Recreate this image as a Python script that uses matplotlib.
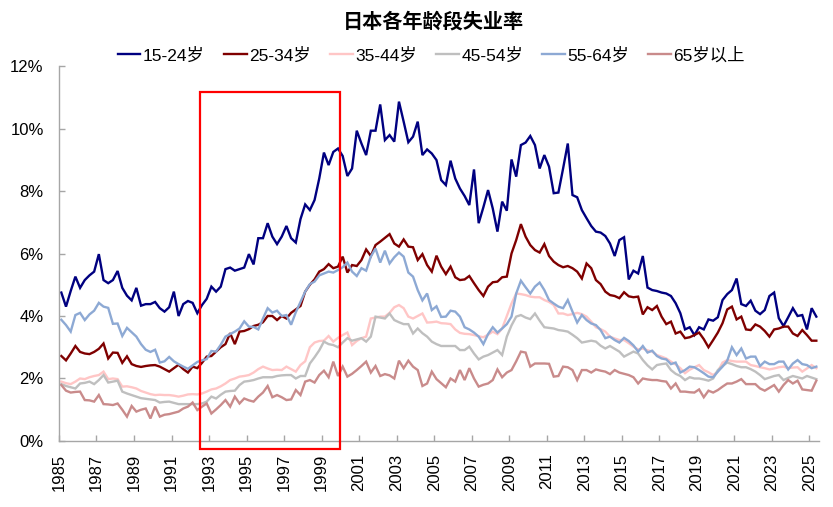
import matplotlib
matplotlib.use("Agg")
import matplotlib.pyplot as plt
from matplotlib.patches import Rectangle
import numpy as np

plt.rcParams['font.family'] = ['Liberation Sans', 'Noto Sans CJK SC', 'DejaVu Sans']

# Quarterly data, 1985Q1 .. 2025Q2 (162 quarters), unemployment rate in %
start_year = 1985
tick_years = list(range(1985, 2026, 2))

age_15_24 = [
    4.75, 4.3, 4.8, 5.26, 4.9, 5.15, 5.3, 5.42, 5.98, 5.15,
    5.05, 5.15, 5.44, 4.9, 4.65, 4.5, 4.9, 4.33, 4.38, 4.38,
    4.45, 4.25, 4.14, 4.28, 4.78, 4.0, 4.38, 4.48, 4.42, 4.09,
    4.35, 4.55, 4.94, 4.78, 4.94, 5.5, 5.55, 5.45, 5.5, 5.55,
    5.98, 5.65, 6.49, 6.49, 6.97, 6.54, 6.3, 6.54, 6.88, 6.49,
    6.35, 7.1, 7.57, 7.39, 7.71, 8.4, 9.23, 8.83, 9.25, 9.36,
    9.12, 8.48, 8.72, 9.93, 9.52, 9.15, 9.93, 9.93, 10.77, 9.63,
    9.79, 9.58, 10.86, 10.22, 9.56, 9.74, 10.22, 9.15, 9.33, 9.2,
    8.99, 8.35, 8.19, 8.97, 8.4, 8.08, 7.84, 7.55, 8.69, 6.97,
    7.48, 8.03, 7.44, 6.7, 7.66, 7.37, 9.01, 8.46, 9.47, 9.55,
    9.76, 9.47, 8.72, 9.15, 8.78, 7.93, 7.95, 8.72, 9.52, 7.87,
    7.8, 7.39, 7.13, 6.88, 6.7, 6.67, 6.56, 6.32, 5.92, 6.43,
    6.52, 5.17, 5.45, 5.36, 5.92, 4.91, 4.83, 4.8, 4.75, 4.72,
    4.64, 4.41, 4.09, 3.57, 3.64, 3.39, 3.64, 3.57, 3.89, 3.85,
    3.96, 4.51, 4.7, 4.83, 5.2, 4.38, 4.32, 4.49, 4.17, 4.06,
    4.19, 4.64, 4.75, 3.93, 3.68, 3.96, 4.25, 4.0, 4.03, 3.57,
    4.25, 3.98,
]

age_25_34 = [
    2.72, 2.58, 2.8, 3.04, 2.85, 2.8, 2.78, 2.85, 2.95, 3.12,
    2.64, 2.83, 2.82, 2.5, 2.71, 2.46, 2.4, 2.37, 2.4, 2.42,
    2.43, 2.38, 2.3, 2.22, 2.33, 2.44, 2.3, 2.19, 2.38, 2.33,
    2.5, 2.7, 2.72, 2.86, 3.0, 3.1, 3.45, 3.1, 3.5, 3.52,
    3.58, 3.68, 3.72, 3.8, 4.0, 4.0, 3.87, 4.0, 3.92, 4.1,
    4.21, 4.32, 4.78, 5.0, 5.17, 5.42, 5.5, 5.66, 5.53, 5.58,
    5.9, 5.39, 5.63, 5.6, 5.79, 6.13, 5.92, 6.27, 6.38, 6.5,
    6.62, 6.32, 6.22, 6.45, 6.22, 6.2, 5.79, 5.98, 5.63, 5.42,
    5.93, 5.58, 5.34, 5.58, 5.24, 5.15, 5.17, 5.28, 5.05, 4.83,
    4.64, 4.94, 5.08, 5.1, 5.24, 5.26, 6.0, 6.43, 6.94, 6.54,
    6.27, 6.11, 6.03, 6.3, 5.92, 5.74, 5.63, 5.56, 5.6, 5.53,
    5.42, 5.2, 5.68, 5.53, 5.15, 5.02, 4.78, 4.67, 4.64, 4.57,
    4.76, 4.63, 4.6, 4.62, 4.05, 4.28, 4.19, 4.32, 3.98, 3.74,
    3.82, 3.44, 3.5, 3.29, 3.32, 3.39, 3.47, 3.26, 3.0, 3.23,
    3.47, 3.77, 4.21, 4.3, 3.89, 3.98, 3.57, 3.55, 3.73, 3.66,
    3.52, 3.34, 3.57, 3.6, 3.66, 3.66, 3.44, 3.36, 3.55, 3.39,
    3.21, 3.21,
]

age_35_44 = [
    1.9, 1.85, 1.82, 1.9, 2.0, 1.98, 2.04, 2.08, 2.11, 2.22,
    1.98, 2.0, 1.98, 1.74, 1.75, 1.72, 1.68, 1.6, 1.55, 1.5,
    1.47, 1.48, 1.47, 1.47, 1.45, 1.42, 1.45, 1.49, 1.5, 1.49,
    1.52, 1.58, 1.65, 1.68, 1.75, 1.84, 1.95, 2.0, 2.06, 2.08,
    2.11, 2.19, 2.3, 2.38, 2.32, 2.27, 2.28, 2.27, 2.38, 2.3,
    2.22, 2.43, 2.55, 3.0, 3.15, 3.2, 3.21, 3.36, 3.18, 3.3,
    3.39, 3.47, 3.07, 3.2, 3.29, 3.34, 3.92, 3.95, 3.98, 3.98,
    4.1, 4.28, 4.35, 4.25, 3.98, 3.92, 4.0, 4.08, 3.79, 3.8,
    3.82, 3.77, 3.76, 3.74, 3.57, 3.46, 3.43, 3.42, 3.39, 3.35,
    3.32, 3.4, 3.5, 3.42, 3.6, 4.0, 4.4, 4.72, 4.7, 4.67,
    4.62, 4.6, 4.6, 4.51, 4.45, 4.35, 4.08, 4.08, 4.03, 4.06,
    4.1, 4.06, 3.98, 3.82, 3.64, 3.58, 3.5, 3.34, 3.28, 3.23,
    3.23, 3.13, 3.02, 2.93, 2.96, 2.9, 2.86, 2.75, 2.7, 2.64,
    2.54, 2.45, 2.33, 2.17, 2.28, 2.36, 2.43, 2.27, 2.2, 2.11,
    2.22, 2.51, 2.59, 2.56, 2.54, 2.54, 2.54, 2.43, 2.4, 2.36,
    2.33, 2.29, 2.32, 2.36, 2.38, 2.33, 2.35, 2.36, 2.22, 2.32,
    2.43, 2.33,
]

age_45_54 = [
    1.82, 1.76, 1.72, 1.68, 1.84, 1.86, 1.9, 1.82, 1.95, 2.11,
    1.87, 1.9, 1.93, 1.58, 1.52, 1.47, 1.42, 1.37, 1.35, 1.33,
    1.31, 1.23, 1.25, 1.26, 1.22, 1.18, 1.18, 1.18, 1.18, 1.18,
    1.2, 1.26, 1.42, 1.36, 1.48, 1.58, 1.6, 1.61, 1.79, 1.9,
    1.92, 1.95, 2.0, 2.04, 2.04, 2.04, 2.08, 2.1, 2.11, 2.11,
    2.0, 2.08, 2.08, 2.48, 2.68, 2.9, 3.18, 3.1, 3.07, 3.0,
    3.15, 3.29, 3.21, 3.25, 3.29, 3.18, 3.34, 3.98, 3.95, 3.92,
    4.08, 3.87, 3.8, 3.74, 3.74, 3.44, 3.6, 3.45, 3.34, 3.18,
    3.1, 3.04, 3.04, 3.04, 3.04, 2.91, 2.91, 3.02, 2.8, 2.61,
    2.7, 2.75, 2.83, 2.91, 2.75, 3.34, 3.7, 3.98, 4.03, 3.95,
    3.9, 4.08, 3.85, 3.64, 3.62, 3.6, 3.55, 3.53, 3.5, 3.4,
    3.29, 3.15, 3.18, 3.21, 3.18, 3.05, 2.96, 3.04, 2.95, 2.86,
    2.7, 2.78, 2.86, 2.8, 2.59, 2.42, 2.29, 2.43, 2.46, 2.48,
    2.27, 2.15, 2.08, 1.95, 2.04, 2.0, 2.0, 1.97, 1.93, 2.0,
    2.27, 2.4, 2.51, 2.46, 2.4, 2.36, 2.36, 2.3, 2.22, 2.11,
    1.98, 2.03, 2.08, 2.11, 1.95, 2.02, 2.08, 2.04, 2.0, 2.08,
    2.03, 1.98,
]

age_55_64 = [
    3.88, 3.71, 3.5, 4.03, 4.1, 3.87, 4.05, 4.17, 4.42, 4.3,
    4.26, 3.75, 3.76, 3.36, 3.62, 3.48, 3.34, 3.1, 2.92, 2.85,
    2.92, 2.51, 2.55, 2.69, 2.55, 2.46, 2.38, 2.31, 2.42, 2.53,
    2.58, 2.62, 2.88, 2.86, 3.08, 3.34, 3.42, 3.5, 3.6, 3.83,
    3.66, 3.65, 3.57, 3.92, 4.25, 4.11, 4.17, 4.0, 4.03, 3.72,
    4.12, 4.45, 4.78, 5.02, 5.1, 5.3, 5.36, 5.42, 5.39, 5.47,
    5.56, 5.71, 5.42, 5.28, 5.53, 5.45, 5.9, 6.16, 5.71, 6.09,
    5.68, 5.88, 6.03, 5.9, 5.39, 5.26, 4.83, 4.5, 4.72, 4.19,
    4.31, 3.97, 3.98, 4.17, 4.14, 3.98, 3.64, 3.57, 3.47, 3.34,
    3.1, 3.42, 3.64, 3.47, 3.6, 3.74, 3.98, 4.72, 5.13, 4.92,
    4.72, 4.94, 5.07, 4.83, 4.51, 4.4, 4.3, 4.25, 4.51, 4.14,
    3.79, 4.03, 3.87, 3.76, 3.71, 3.55, 3.29, 3.34, 3.23, 3.15,
    3.3, 3.2, 3.06, 2.86, 3.04, 2.83, 2.89, 2.72, 2.64, 2.61,
    2.46, 2.51, 2.19, 2.27, 2.38, 2.36, 2.27, 2.17, 2.06, 2.04,
    2.22, 2.38, 2.57, 3.0, 2.75, 2.96, 2.64, 2.7, 2.7, 2.4,
    2.54, 2.46, 2.46, 2.54, 2.54, 2.29, 2.48, 2.59, 2.46, 2.43,
    2.33, 2.38,
]

age_65_plus = [
    1.79, 1.61, 1.55, 1.57, 1.58, 1.31, 1.3, 1.26, 1.47, 1.18,
    1.17, 1.15, 1.2, 1.0, 0.78, 1.12, 0.94, 1.0, 1.04, 0.72,
    1.1, 0.78, 0.84, 0.86, 0.9, 0.94, 1.04, 1.1, 1.23, 0.99,
    1.1, 1.2, 0.88, 1.01, 1.15, 1.31, 1.1, 1.42, 1.2, 1.36,
    1.3, 1.26, 1.42, 1.55, 1.76, 1.4, 1.47, 1.4, 1.31, 1.33,
    1.63, 1.47, 1.9, 1.95, 1.87, 2.11, 2.25, 2.04, 2.54, 2.08,
    2.38, 2.06, 2.15, 2.27, 2.4, 2.54, 2.19, 2.4, 2.08, 2.14,
    2.1, 2.0, 2.57, 2.33, 2.57, 2.38, 2.27, 1.76, 1.84, 2.22,
    1.98, 1.85, 1.72, 2.0, 1.9, 2.27, 1.95, 2.33, 2.0, 1.74,
    1.8, 1.84, 1.95, 2.29, 2.04, 2.19, 2.27, 2.55, 2.86, 2.83,
    2.38, 2.48, 2.48, 2.48, 2.47, 2.06, 2.08, 2.38, 2.36, 2.27,
    1.95, 2.27, 2.27, 2.19, 2.29, 2.25, 2.22, 2.14, 2.27, 2.19,
    2.15, 2.11, 2.04, 1.84, 2.0, 1.97, 1.95, 1.95, 1.92, 1.9,
    1.68, 1.84, 1.58, 1.58, 1.56, 1.55, 1.65, 1.4, 1.61, 1.55,
    1.63, 1.74, 1.84, 1.84, 1.9, 1.98, 1.82, 1.82, 1.82, 1.68,
    1.61, 1.7, 1.79, 1.58, 1.79, 1.95, 1.84, 1.93, 1.65, 1.63,
    1.61, 1.93,
]

series_labels = ['15-24岁', '25-34岁', '35-44岁', '45-54岁', '55-64岁', '65岁以上']
series_values = [age_15_24, age_25_34, age_35_44, age_45_54, age_55_64, age_65_plus]
series_colors = ['#000080', '#7F0000', '#FFC6C6', '#BFBFBF', '#8DA9D4', '#C98B8B']

# highlighted period (quarters): 1992Q3 .. 1999Q4
highlight_start = (1992, 3)
highlight_end = (1999, 4)

fig = plt.figure(figsize=(8.33, 5.07), dpi=100)
ax = fig.add_axes([0.0708, 0.1302, 0.912, 0.7396])

n = len(age_15_24)
x = np.arange(n)
for vals, lab, col in zip(series_values, series_labels, series_colors):
    ax.plot(x, vals, color=col, lw=1.7, label=lab, solid_joinstyle='miter')

ax.set_xlim(-0.5, n - 0.5)
ax.set_ylim(0, 12)
ax.set_yticks(np.arange(0, 13, 2))
ax.set_yticklabels([f'{v}%' for v in range(0, 13, 2)])
tick_pos = [(yr - start_year) * 4 - 0.5 for yr in tick_years]
ax.set_xticks(tick_pos)
ax.set_xticklabels([str(yr) for yr in tick_years], rotation=90)

for s in ['top', 'right']:
    ax.spines[s].set_visible(False)
for s in ['left', 'bottom']:
    ax.spines[s].set_color('#A6A6A6')
    ax.spines[s].set_linewidth(1.0)
ax.tick_params(axis='both', direction='in', colors='#A6A6A6', length=4, width=1.0,
               labelsize=12, labelcolor='black')
ax.tick_params(axis='x', pad=9)
ax.tick_params(axis='y', pad=11)

# highlight rectangle
def qidx(yq):
    return (yq[0] - start_year) * 4 + (yq[1] - 1)
x0 = qidx(highlight_start) - 0.45
x1 = qidx(highlight_end) + 0.5
rect = Rectangle((x0, -0.25), x1 - x0, 11.42, fill=False, edgecolor='#FF0000', lw=1.6, clip_on=False, zorder=5)
ax.add_patch(rect)

fig.text(0.52, 0.957, '日本各年龄段失业率', ha='center', va='center', fontsize=14.5, fontweight='bold')
fig.legend(loc='center', bbox_to_anchor=(0.518, 0.891), ncol=6, frameon=False, fontsize=12.5,
           handlelength=1.3, handletextpad=0.15, columnspacing=1.1, borderaxespad=0)

fig.savefig('out.png', dpi=100)
